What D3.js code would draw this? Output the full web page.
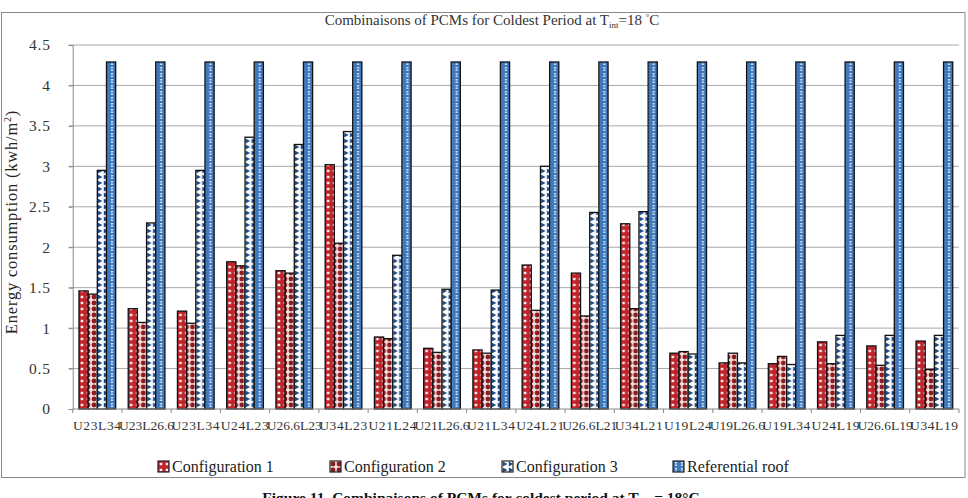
<!DOCTYPE html>
<html>
<head>
<meta charset="utf-8">
<script src="https://cdn.jsdelivr.net/npm/d3@7"></script>
<style>
  body { margin: 0; background: #fff; }
  svg text { font-family: "Liberation Serif", "DejaVu Serif", serif; }
</style>
</head>
<body>
<svg id="chart" width="968" height="498"></svg>
<script>
var categories = ["U23L34", "U23L26.6", "U23L34", "U24L23", "U26.6L23", "U34L23",
  "U21L24", "U21L26.6", "U21L34", "U24L21", "U26.6L21", "U34L21",
  "U19L24", "U19L26.6", "U19L34", "U24L19", "U26.6L19", "U34L19"];
var seriesNames = ["Configuration 1", "Configuration 2", "Configuration 3", "Referential roof"];
var config1 = [1.46, 1.24, 1.21, 1.82, 1.71, 3.02, 0.89, 0.75, 0.73, 1.78, 1.68, 2.29, 0.69, 0.57, 0.56, 0.83, 0.78, 0.84];
var config2 = [1.42, 1.07, 1.06, 1.77, 1.68, 2.05, 0.87, 0.70, 0.69, 1.22, 1.15, 1.24, 0.71, 0.69, 0.65, 0.56, 0.54, 0.49];
var config3 = [2.95, 2.30, 2.95, 3.36, 3.27, 3.43, 1.90, 1.48, 1.47, 3.00, 2.43, 2.44, 0.68, 0.57, 0.55, 0.91, 0.91, 0.91];
var refRoof = [4.29, 4.29, 4.29, 4.29, 4.29, 4.29, 4.29, 4.29, 4.29, 4.29, 4.29, 4.29, 4.29, 4.29, 4.29, 4.29, 4.29, 4.29];
var yTicks = [0, 0.5, 1, 1.5, 2, 2.5, 3, 3.5, 4, 4.5];

var series = [config1, config2, config3, refRoof];
var serif = "Liberation Serif";

var svg = d3.select("#chart");
var margin = {top: 45, left: 72.7, right: 959, bottom: 409};

// patterns
var defs = svg.append("defs");
var p1 = defs.append("pattern").attr("id", "pat0").attr("patternUnits", "userSpaceOnUse")
  .attr("width", 6).attr("height", 6);
p1.append("rect").attr("width", 6).attr("height", 6).attr("fill", "#c1232b");
p1.append("path").attr("d", "M1.8,1.8L4.2,4.2M4.2,1.8L1.8,4.2").attr("stroke", "#fff").attr("stroke-width", 1.1);

var p2 = defs.append("pattern").attr("id", "pat1").attr("patternUnits", "userSpaceOnUse")
  .attr("width", 6).attr("height", 6);
p2.append("rect").attr("width", 6).attr("height", 6).attr("fill", "#f3dede");
p2.append("circle").attr("cx", 3).attr("cy", 3).attr("r", 2.4).attr("fill", "#8e1b20");

var p3 = defs.append("pattern").attr("id", "pat2").attr("patternUnits", "userSpaceOnUse")
  .attr("width", 6).attr("height", 6);
p3.append("rect").attr("width", 6).attr("height", 6).attr("fill", "#ffffff");
p3.append("path").attr("d", "M0.8,0.4L5.4,3L0.8,5.6Z").attr("fill", "#1d4a85");

var p4 = defs.append("pattern").attr("id", "pat3").attr("patternUnits", "userSpaceOnUse")
  .attr("width", 6).attr("height", 6);
p4.append("rect").attr("width", 6).attr("height", 6).attr("fill", "#3f78bd");
p4.append("path").attr("d", "M1.6,1.2L4.4,1.2L3,3L4.4,4.8L1.6,4.8L3,3Z").attr("fill", "#ffffff");

// frame
svg.append("rect").attr("x", 1.5).attr("y", 12.5).attr("width", 963.5).attr("height", 465)
  .attr("fill", "none").attr("stroke", "#8a8a8a").attr("stroke-width", 1);

var x = d3.scaleBand().domain(d3.range(categories.length))
  .range([margin.left, margin.right]).paddingInner(0.255).paddingOuter(0.1275);
var xs = d3.scaleBand().domain(d3.range(4)).range([0, x.bandwidth()]);
var y = d3.scaleLinear().domain([0, 4.5]).range([margin.bottom, margin.top]);

// gridlines
svg.append("g").selectAll("line").data(yTicks.slice(1)).enter().append("line")
  .attr("x1", margin.left - 4).attr("x2", margin.right)
  .attr("y1", function(d) { return y(d); }).attr("y2", function(d) { return y(d); })
  .attr("stroke", "#a8a8a8").attr("stroke-width", 1);

// y axis
var yAxis = svg.append("g").attr("transform", "translate(" + margin.left + ",0)")
  .call(d3.axisLeft(y).tickValues(yTicks).tickSize(4).tickFormat(function(d) { return d; }));
yAxis.attr("font-family", serif);
yAxis.select(".domain").attr("stroke", "#888");
yAxis.selectAll(".tick line").attr("stroke", "#888");
yAxis.selectAll(".tick text").attr("font-size", 15.5).attr("fill", "#333")
  .attr("x", -22).attr("font-family", serif).attr("letter-spacing", 0.8);

// bars
var groups = svg.append("g").selectAll("g").data(categories).enter().append("g")
  .attr("transform", function(d, i) { return "translate(" + x(i) + ",0)"; });
groups.selectAll("rect").data(function(d, i) {
    return series.map(function(s, k) { return {k: k, v: s[i]}; });
  }).enter().append("rect")
  .attr("x", function(d) { return xs(d.k); })
  .attr("y", function(d) { return y(d.v); })
  .attr("width", xs.bandwidth())
  .attr("height", function(d) { return y(0) - y(d.v); })
  .attr("fill", function(d) { return "url(#pat" + d.k + ")"; })
  .attr("stroke", "#111").attr("stroke-width", 1.3);

// x axis
var step = x.step();
var xAxis = svg.append("g");
xAxis.append("line").attr("x1", margin.left).attr("x2", margin.right)
  .attr("y1", y(0)).attr("y2", y(0)).attr("stroke", "#888");
xAxis.selectAll(".tk").data(d3.range(categories.length + 1)).enter().append("line")
  .attr("x1", function(i) { return margin.left + i * step; })
  .attr("x2", function(i) { return margin.left + i * step; })
  .attr("y1", y(0)).attr("y2", y(0) + 4).attr("stroke", "#888");
xAxis.selectAll("text").data(categories).enter().append("text")
  .attr("x", function(d, i) { return x(i) + x.bandwidth() / 2; })
  .attr("y", 430)
  .attr("text-anchor", "middle").attr("font-family", serif).attr("font-size", 13.5)
  .attr("letter-spacing", function(d) { return d.length > 6 ? 0 : 0.6; })
  .attr("fill", "#333").text(function(d) { return d; });

// title
var title = svg.append("text").attr("x", 492).attr("y", 25).attr("text-anchor", "middle")
  .attr("font-family", serif).attr("font-size", 15).attr("fill", "#333");
title.append("tspan").text("Combinaisons of PCMs for Coldest Period at T");
title.append("tspan").attr("font-size", 9).attr("dy", 3).text("int");
title.append("tspan").attr("dy", -3).text("=18 ");
title.append("tspan").attr("font-size", 9).attr("dy", -5).text("°");
title.append("tspan").attr("dy", 5).text("C");

// y title
var yt = svg.append("text").attr("transform", "translate(17,222) rotate(-90)")
  .attr("text-anchor", "middle").attr("font-family", serif).attr("font-size", 16.5)
  .attr("letter-spacing", 0.8).attr("fill", "#222");
yt.append("tspan").text("Energy consumption (kwh/m");
yt.append("tspan").attr("font-size", 10).attr("dy", -6).text("2");
yt.append("tspan").attr("dy", 6).text(")");

// legend
var legendX = [158, 330, 502, 673];
var legend = svg.append("g").selectAll("g").data(seriesNames).enter().append("g")
  .attr("transform", function(d, i) { return "translate(" + legendX[i] + ",461)"; });
legend.append("rect").attr("width", 11).attr("height", 11)
  .attr("fill", function(d, i) { return "url(#pat" + i + ")"; })
  .attr("stroke", "#222").attr("stroke-width", 1.2);
legend.append("text").attr("x", 14).attr("y", 10.5).attr("font-family", serif)
  .attr("font-size", 16).attr("fill", "#222")
  .text(function(d) { return d; });

// caption, partly below the bottom edge as in the source
var cap = svg.append("text").attr("x", 481).attr("y", 503).attr("text-anchor", "middle")
  .attr("font-family", serif).attr("font-size", 15.5).attr("font-weight", "bold").attr("fill", "#111");
cap.append("tspan").text("Figure 11. Combinaisons of PCMs for coldest period at T");
cap.append("tspan").attr("font-size", 10).attr("dy", 3).text("int");
cap.append("tspan").attr("dy", -3).text(" = 18°C");
</script>
</body>
</html>
